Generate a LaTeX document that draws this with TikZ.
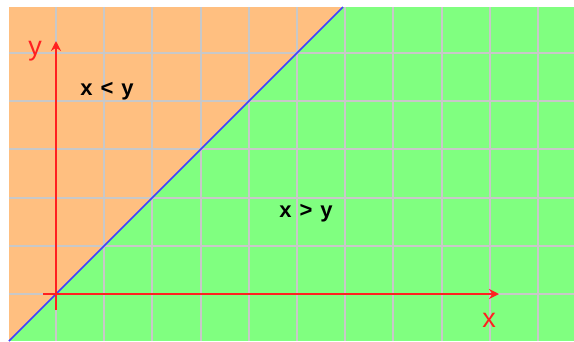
\documentclass[tikz,border=0pt]{standalone}
\usepackage{fontspec}
\setmainfont{Liberation Sans}
\usetikzlibrary{arrows.meta}
\definecolor{orng}{RGB}{255,191,128}
\definecolor{grn}{RGB}{128,255,128}
\definecolor{gridc}{RGB}{200,200,200}
\definecolor{bluel}{RGB}{64,64,255}
\definecolor{redl}{RGB}{255,32,32}
\tikzset{
  gridline/.style={draw=gridc, line width=2pt},
  axis/.style={draw=redl, line width=2.6pt, -{Stealth[length=10pt,width=10pt]}},
  axlabel/.style={text=redl, font=\fontsize{27}{27}\selectfont, inner sep=0pt},
  region/.style={text=black, font=\bfseries\fontsize{22}{22}\selectfont, inner sep=0pt}
}
\begin{document}
\begin{tikzpicture}[x=1pt,y=-1pt]
\useasboundingbox (0,0) rectangle (574,341);
\fill[white] (0,0) rectangle (574,341);
% regions
\fill[grn] (9,7) rectangle (574,341);
\fill[orng] (9,7) -- (343,7) -- (9,341) -- cycle;
% grid
\foreach \i in {0,...,10} {
  \draw[gridline] ({56+48.2*\i},7) -- ({56+48.2*\i},341);
}
\foreach \j in {0,...,5} {
  \draw[gridline] (9,{294-48.2*\j}) -- (574,{294-48.2*\j});
}
% diagonal
\coordinate (d1) at (9,341);
\coordinate (d2) at (343,7);
\draw[bluel, line width=1.5pt] (d1) -- (d2);
% axes
\coordinate (xs) at (43,294);
\coordinate (xe) at (499,294);
\coordinate (ys) at (56,310);
\coordinate (ye) at (56,41);
\draw[axis] (xs) -- (xe);
\draw[axis] (ys) -- (ye);
% labels
\node[axlabel] (ly) at (35,51) {y};
\node[axlabel] (lx) at (489,320) {x};
\node[region] (lt) at (107,91) {x\hspace{8pt}<\hspace{8pt}y};
\node[region] (lb) at (306,213) {x\hspace{8pt}>\hspace{8pt}y};
\end{tikzpicture}
\end{document}
